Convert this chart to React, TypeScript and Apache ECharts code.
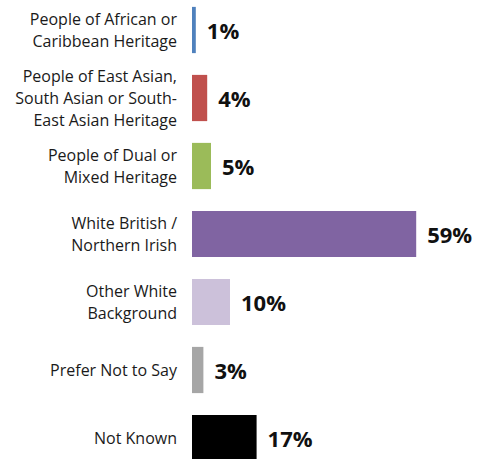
import React, { useEffect, useRef } from "react";
import * as echarts from "echarts";

const categories = [
  "People of African or\nCaribbean Heritage",
  "People of East Asian,\nSouth Asian or South-\nEast Asian Heritage",
  "People of Dual or\nMixed Heritage",
  "White British /\nNorthern Irish",
  "Other White\nBackground",
  "Prefer Not to Say",
  "Not Known",
];
const values = [1, 4, 5, 59, 10, 3, 17];
const colors = ["#4F81BD", "#C0504D", "#9BBB59", "#8064A2", "#CCC1DA", "#A6A6A6", "#000000"];

export default function App() {
  const ref = useRef<HTMLDivElement>(null);
  useEffect(() => {
    if (!ref.current) return;
    const chart = echarts.init(ref.current, null, { renderer: "svg" });
    chart.setOption({
      animation: false,
      backgroundColor: "#ffffff",
      grid: { left: 192, top: 0, right: 20, bottom: 0, containLabel: false, outerBoundsMode: "none" },
      xAxis: {
        type: "value",
        min: 0,
        max: 70,
        show: false,
      },
      yAxis: {
        type: "category",
        data: categories,
        inverse: true,
        axisLine: { show: false },
        axisTick: { show: false },
        axisLabel: {
          margin: 15,
          fontFamily: "Open Sans",
          fontSize: 16,
          lineHeight: 22,
          color: "#1a1a1a",
          align: "right",
        },
      },
      series: [
        {
          type: "bar",
          data: values.map((v, i) => ({ value: v, itemStyle: { color: colors[i] } })),
          barCategoryGap: "32%",
          label: {
            show: true,
            position: "right",
            distance: 11,
            formatter: "{c}%",
            fontFamily: "Open Sans",
            fontWeight: "bold",
            fontSize: 22,
            color: "#111111",
          },
        },
      ],
    });
    return () => chart.dispose();
  }, []);
  return (
    <div style={{ position: "fixed", left: 0, top: 0, width: 478, height: 459, overflow: "hidden", background: "#fff" }}>
      <div
        ref={ref}
        style={{ position: "absolute", left: 0, top: -4, width: 478, height: 476 }}
      />
    </div>
  );
}
